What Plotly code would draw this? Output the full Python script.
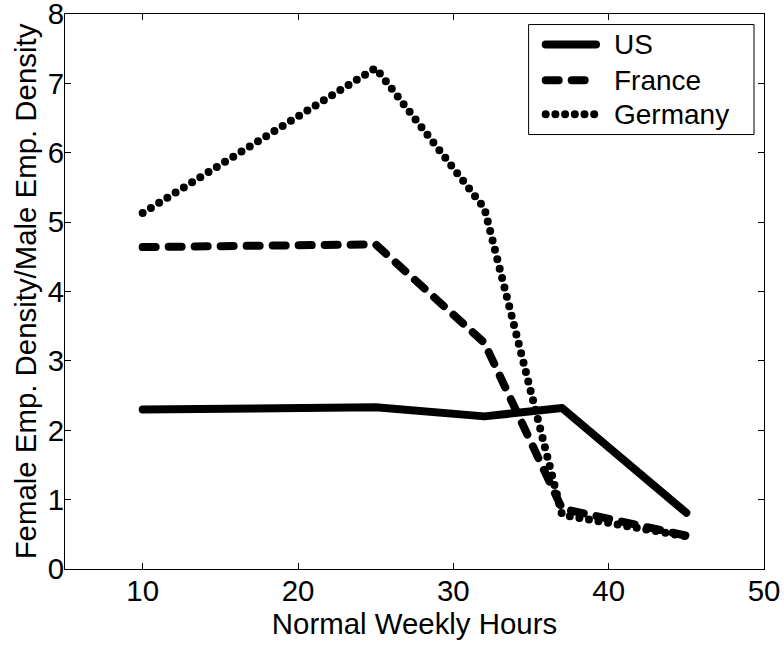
import plotly.graph_objects as go

# ---- data ----
hours = [10, 25, 32, 37, 45]
us = [2.30, 2.33, 2.20, 2.32, 0.81]
france = [4.64, 4.68, 3.26, 0.87, 0.48]
germany = [5.13, 7.22, 5.20, 0.78, 0.47]

series_names = ["US", "France", "Germany"]
x_ticks = [10, 20, 30, 40, 50]
y_ticks = [0, 1, 2, 3, 4, 5, 6, 7, 8]

FONT = "Liberation Sans, Arial, Helvetica, sans-serif"
LW = 8
dash_styles = ["solid", "13px,13px", "0px,9.7px"]

fig = go.Figure()
for name, ys, dash in zip(series_names, [us, france, germany], dash_styles):
    fig.add_trace(go.Scatter(
        x=hours, y=ys, mode="lines", name=name,
        line=dict(color="black", width=LW, dash=dash),
        showlegend=False, hoverinfo="skip",
    ))

# manual legend (to reproduce the long MATLAB-style samples)
lx0, lx1 = 0.6877, 0.7597
ly = [0.9449, 0.8806, 0.8194]
fig.add_shape(type="rect", xref="paper", yref="paper",
              x0=0.6638, x1=0.9857, y0=0.7828, y1=0.981,
              line=dict(color="black", width=1), fillcolor="white", layer="above")
for name, dash, yy in zip(series_names, dash_styles, ly):
    fig.add_shape(type="line", xref="paper", yref="paper",
                  x0=lx0, x1=lx1, y0=yy, y1=yy,
                  line=dict(color="black", width=LW, dash=dash), layer="above")
    fig.add_annotation(xref="paper", yref="paper", x=0.7825, y=yy,
                       xanchor="left", yanchor="middle", showarrow=False,
                       text=name, font=dict(family=FONT, size=28, color="black"))

axis_common = dict(
    showline=True, linecolor="black", linewidth=1, mirror="ticks",
    ticks="inside", ticklen=6, tickwidth=1, tickcolor="black",
    showgrid=False, zeroline=False, automargin=False,
    ticklabeloverflow="allow",
    tickfont=dict(family=FONT, size=29.4, color="black"),
)

fig.update_xaxes(range=[5, 50], tickvals=x_ticks, ticktext=[str(v) for v in x_ticks],
                 ticklabelstandoff=-4,
                 title=dict(text="Normal Weekly Hours", standoff=4,
                            font=dict(family=FONT, size=29.4, color="black")),
                 **axis_common)
fig.update_yaxes(range=[0, 8], tickvals=y_ticks, ticktext=[str(v) for v in y_ticks],
                 ticklabelstandoff=-6,
                 title=dict(text="Female Emp. Density/Male Emp. Density", standoff=2,
                            font=dict(family=FONT, size=29.4, color="black")),
                 **axis_common)

fig.update_layout(
    width=784, height=646,
    margin=dict(l=65, r=20, t=14, b=77),
    paper_bgcolor="white", plot_bgcolor="white",
    font=dict(family=FONT, color="black"),
)

post = """
document.body.style.margin = '0';
var s = document.createElement('style');
s.innerHTML = '.js-line, .shapelayer path { stroke-linecap: round !important; stroke-linejoin: round !important; }';
document.head.appendChild(s);
"""
fig.write_html("out.html", post_script=post, config={"displayModeBar": False})
